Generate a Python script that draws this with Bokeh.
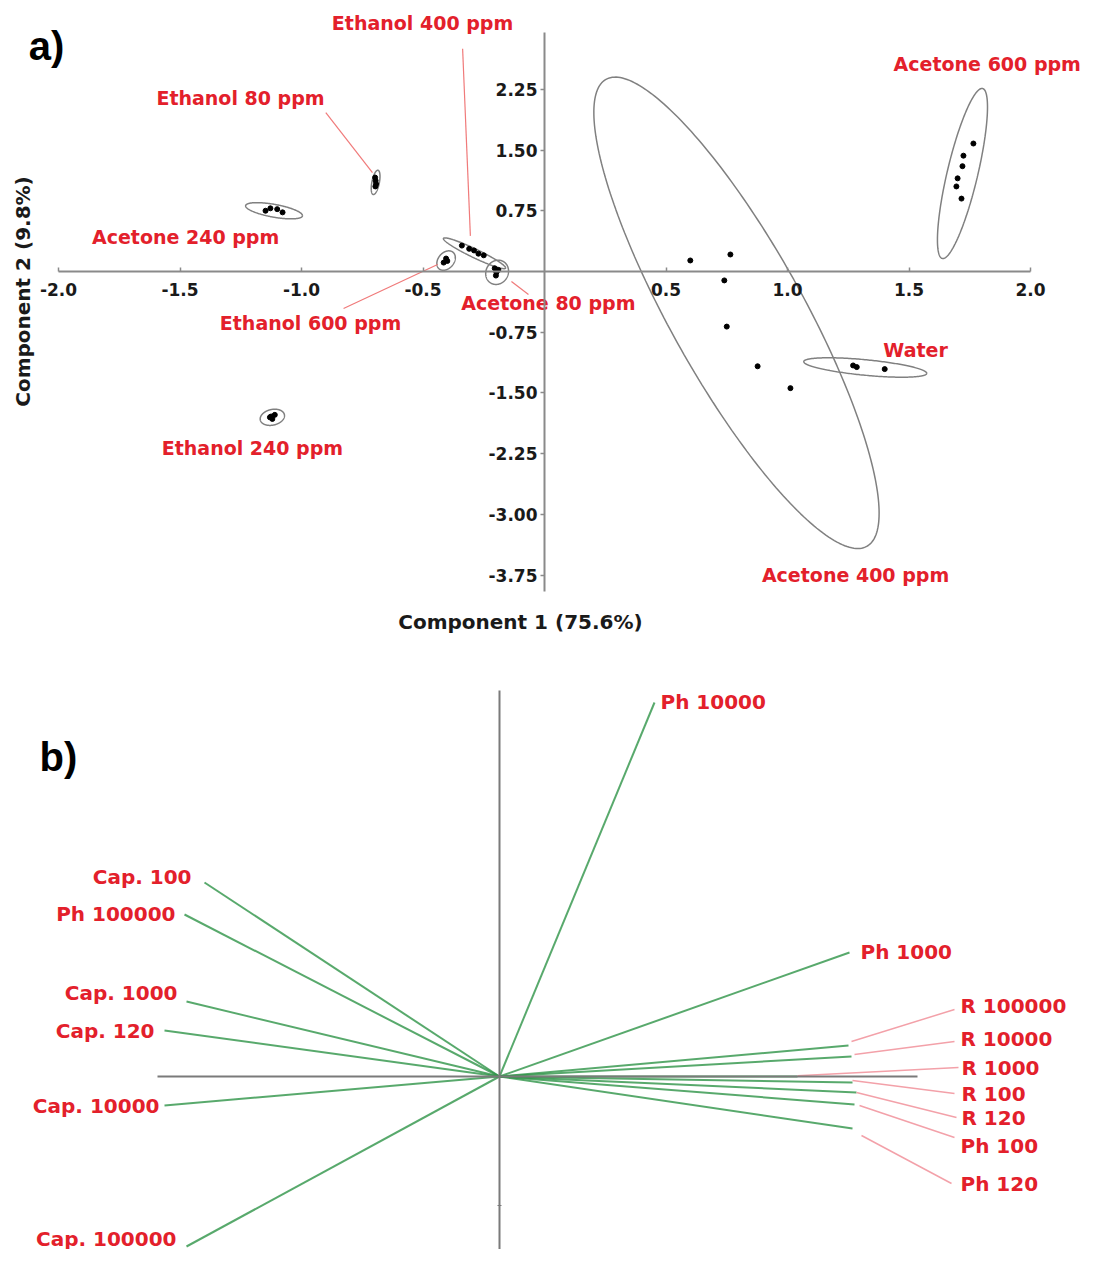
import numpy as np
from bokeh.plotting import figure
from bokeh.models import Range1d, LinearAxis, FixedTicker
from bokeh.layouts import column
from bokeh.core.properties import value
from bokeh.embed import file_html
from bokeh.resources import INLINE

# ---------------- panel a: PCA scores ----------------
acetone400_x = [0.60, 0.765, 0.74, 0.75, 0.877, 1.012]
acetone400_y = [0.136, 0.21, -0.11, -0.68, -1.17, -1.44]
acetone600_x = [1.765, 1.724, 1.72, 1.70, 1.695, 1.716]
acetone600_y = [1.58, 1.43, 1.30, 1.15, 1.05, 0.90]
water_x = [1.27, 1.285, 1.40]
water_y = [-1.16, -1.18, -1.205]
acetone240_x = [-1.148, -1.128, -1.10, -1.078]
acetone240_y = [0.75, 0.78, 0.77, 0.73]
ethanol80_x = [-0.697, -0.695, -0.693, -0.696]
ethanol80_y = [1.16, 1.12, 1.08, 1.05]
ethanol400_x = [-0.34, -0.31, -0.29, -0.272, -0.25]
ethanol400_y = [0.32, 0.28, 0.26, 0.22, 0.20]
ethanol600_x = [-0.415, -0.405, -0.40]
ethanol600_y = [0.11, 0.16, 0.13]
acetone80_x = [-0.205, -0.19, -0.20, -0.198]
acetone80_y = [0.04, 0.02, -0.05, -0.01]
ethanol240_x = [-1.13, -1.11, -1.12, -1.125]
ethanol240_y = [-1.80, -1.77, -1.82, -1.79]

# confidence ellipses: centre, spreads, correlation
ell_cx = [0.79, 1.72, 1.32, -1.113, -0.695, -0.288, -0.405, -0.195, -1.12]
ell_cy = [-0.51, 1.21, -1.185, 0.75, 1.10, 0.225, 0.135, -0.01, -1.80]
ell_sx = [0.587, 0.103, 0.253, 0.117, 0.018, 0.128, 0.038, 0.047, 0.05]
ell_sy = [2.91, 1.05, 0.12, 0.10, 0.15, 0.19, 0.12, 0.15, 0.10]
ell_rho = [-0.85, 0.78, -0.60, -0.60, 0.5, -0.95, 0.3, 0.1, 0.2]

score_labels = ["Ethanol 400 ppm", "Ethanol 80 ppm", "Acetone 240 ppm", "Ethanol 600 ppm",
                "Acetone 80 ppm", "Ethanol 240 ppm", "Acetone 600 ppm", "Water", "Acetone 400 ppm"]
score_label_x = [-0.502, -1.251, -1.477, -0.963, 0.016, -1.202, 1.822, 1.527, 1.280]
score_label_y = [3.074, 2.136, 0.432, -0.630, -0.383, -2.185, 2.556, -0.963, -3.741]

leader_a_x0 = [-0.337, -0.90, -0.827, -0.136]
leader_a_y0 = [2.75, 1.96, -0.457, -0.123]
leader_a_x1 = [-0.305, -0.708, -0.44, -0.066]
leader_a_y1 = [0.44, 1.22, 0.086, -0.284]

x_tick_values = [-2.0, -1.5, -1.0, -0.5, 0.5, 1.0, 1.5, 2.0]
x_tick_labels = ["-2.0", "-1.5", "-1.0", "-0.5", "0.5", "1.0", "1.5", "2.0"]
y_tick_values = [2.25, 1.50, 0.75, -0.75, -1.50, -2.25, -3.00, -3.75]
y_tick_labels = ["2.25", "1.50", "0.75", "-0.75", "-1.50", "-2.25", "-3.00", "-3.75"]

# ---------------- panel b: loadings ----------------
var_names = ["Ph 10000", "Cap. 100", "Ph 100000", "Cap. 1000", "Cap. 120", "Cap. 10000",
             "Cap. 100000", "Ph 1000", "R 100000", "R 10000", "R 1000", "R 100", "R 120",
             "Ph 100", "Ph 120"]
load_x = [0.3875, -0.7375, -0.7875, -0.7825, -0.8375, -0.8375, -0.7825, 0.875,
          0.8725, 0.88, 0.745, 0.8825, 0.8925, 0.8875, 0.8825]
load_y = [0.935, 0.485, 0.405, 0.1875, 0.115, -0.0725, -0.425, 0.31,
          0.0775, 0.05, 0.0, -0.015, -0.04, -0.07, -0.13]
var_label_x = [0.4025, -0.77, -0.81, -0.805, -0.8625, -0.85, -0.8075, 0.9025,
               1.1525, 1.1525, 1.155, 1.155, 1.155, 1.1525, 1.1525]
var_label_y = [0.9375, 0.50, 0.4075, 0.21, 0.115, -0.0725, -0.405, 0.3125,
               0.1775, 0.095, 0.0225, -0.0425, -0.1025, -0.1725, -0.2675]
var_label_align = ["left", "right", "right", "right", "right", "right", "right", "left",
                   "left", "left", "left", "left", "left", "left", "left"]

leader_b_x0 = [0.88, 0.8875, 0.745, 0.8825, 0.8925, 0.90, 0.905]
leader_b_y0 = [0.0875, 0.055, 0.002, -0.01, -0.04, -0.0725, -0.1475]
leader_b_x1 = [1.1375, 1.1375, 1.1475, 1.1375, 1.1425, 1.1375, 1.13]
leader_b_y1 = [0.1675, 0.0875, 0.0225, -0.0425, -0.1025, -0.1525, -0.2675]

RED = "#e3202b"
FONT = value("DejaVu Sans")
AX_COL = "#8a8a8a"


def base_fig(h, xr, yr):
    p = figure(width=1085, height=h, x_range=Range1d(*xr), y_range=Range1d(*yr),
               output_backend="svg", toolbar_location=None,
               x_axis_location=None, y_axis_location=None, min_border=0)
    p.grid.visible = False
    p.outline_line_color = None
    return p


# ---------- figure a ----------
pa = base_fig(640, (-2.2387, 2.2263), (-4.5556, 3.3457))

xa = LinearAxis(fixed_location=0, ticker=FixedTicker(ticks=x_tick_values),
                major_label_overrides={v: s for v, s in zip(x_tick_values, x_tick_labels)})
xa.bounds = (-2.0, 2.0)
ya = LinearAxis(fixed_location=0, ticker=FixedTicker(ticks=y_tick_values),
                major_label_overrides={v: s for v, s in zip(y_tick_values, y_tick_labels)})
ya.bounds = (-3.95, 2.95)
for ax in (xa, ya):
    ax.axis_line_color = AX_COL
    ax.axis_line_width = 2
    ax.major_tick_line_color = AX_COL
    ax.major_tick_line_width = 1.5
    ax.minor_tick_line_color = None
    ax.major_label_text_font = "DejaVu Sans"
    ax.major_label_text_font_style = "bold"
    ax.major_label_text_font_size = "17px"
    ax.major_label_text_color = "#1a1a1a"
xa.major_tick_in = 4
xa.major_tick_out = 0
xa.major_label_standoff = 12
ya.major_tick_in = 0
ya.major_tick_out = 4
ya.major_label_standoff = 3
pa.add_layout(xa, "below")
pa.add_layout(ya, "left")

# ellipses
t = np.linspace(0, 2 * np.pi, 240)
ell_xs, ell_ys = [], []
for cx, cy, sx, sy, r in zip(ell_cx, ell_cy, ell_sx, ell_sy, ell_rho):
    ell_xs.append(cx + sx * np.cos(t))
    ell_ys.append(cy + sy * (r * np.cos(t) + np.sqrt(1 - r * r) * np.sin(t)))
pa.multi_line(ell_xs, ell_ys, line_color="#808080", line_width=1.5)

# leaders
pa.segment(leader_a_x0, leader_a_y0, leader_a_x1, leader_a_y1,
           line_color="#f07a7a", line_width=1.2)

# points
all_x = (acetone400_x + acetone600_x + water_x + acetone240_x + ethanol80_x +
         ethanol400_x + ethanol600_x + acetone80_x + ethanol240_x)
all_y = (acetone400_y + acetone600_y + water_y + acetone240_y + ethanol80_y +
         ethanol400_y + ethanol600_y + acetone80_y + ethanol240_y)
pa.scatter(all_x, all_y, size=5, color="black")

pa.text(score_label_x, score_label_y, text=score_labels, text_color=RED,
        text_font=FONT, text_font_style="bold", text_font_size="19px",
        text_align="center", text_baseline="middle")

pa.text([-0.099], [-4.333], text=["Component 1 (75.6%)"], text_color="#1a1a1a",
        text_font=FONT, text_font_style="bold", text_font_size="20px",
        text_align="center", text_baseline="middle")
pa.text([-2.148], [-0.247], text=["Component 2 (9.8%)"], text_color="#1a1a1a",
        text_font=FONT, text_font_style="bold", text_font_size="20px",
        text_align="center", text_baseline="middle", angle=np.pi / 2)
pa.text([-2.049], [2.79], text=["a)"], text_color="black",
        text_font=value("Liberation Sans"), text_font_style="bold", text_font_size="40px",
        text_align="center", text_baseline="middle")

# ---------- figure b ----------
pb = base_fig(609, (-1.2475, 1.465), (-0.4325, 1.09))

bx = LinearAxis(fixed_location=0, ticker=FixedTicker(ticks=[]))
bx.bounds = (-0.855, 1.045)
by = LinearAxis(fixed_location=0, ticker=FixedTicker(ticks=[-0.3225]))
by.bounds = (-0.6, 0.965)
for ax in (bx, by):
    ax.axis_line_color = "#7a7a7a"
    ax.axis_line_width = 2
    ax.major_tick_line_color = "#7a7a7a"
    ax.minor_tick_line_color = None
    ax.major_tick_in = 2
    ax.major_tick_out = 2
    ax.major_label_text_alpha = 0
pb.add_layout(bx, "below")
pb.add_layout(by, "left")

pb.segment([0.0] * len(load_x), [0.0] * len(load_y), load_x, load_y,
           line_color="#2e9447", line_alpha=0.8, line_width=2)
pb.segment(leader_b_x0, leader_b_y0, leader_b_x1, leader_b_y1,
           line_color="#f3a1a9", line_width=1.5)
pb.text(var_label_x, var_label_y, text=var_names, text_color=RED,
        text_font=FONT, text_font_style="bold", text_font_size="20px",
        text_align=var_label_align, text_baseline="middle")
pb.text([-1.1025], [0.80], text=["b)"], text_color="black",
        text_font=value("Liberation Sans"), text_font_style="bold", text_font_size="40px",
        text_align="center", text_baseline="middle")

layout = column(pa, pb, spacing=0)
open("out.html", "w").write(file_html(layout, INLINE))
